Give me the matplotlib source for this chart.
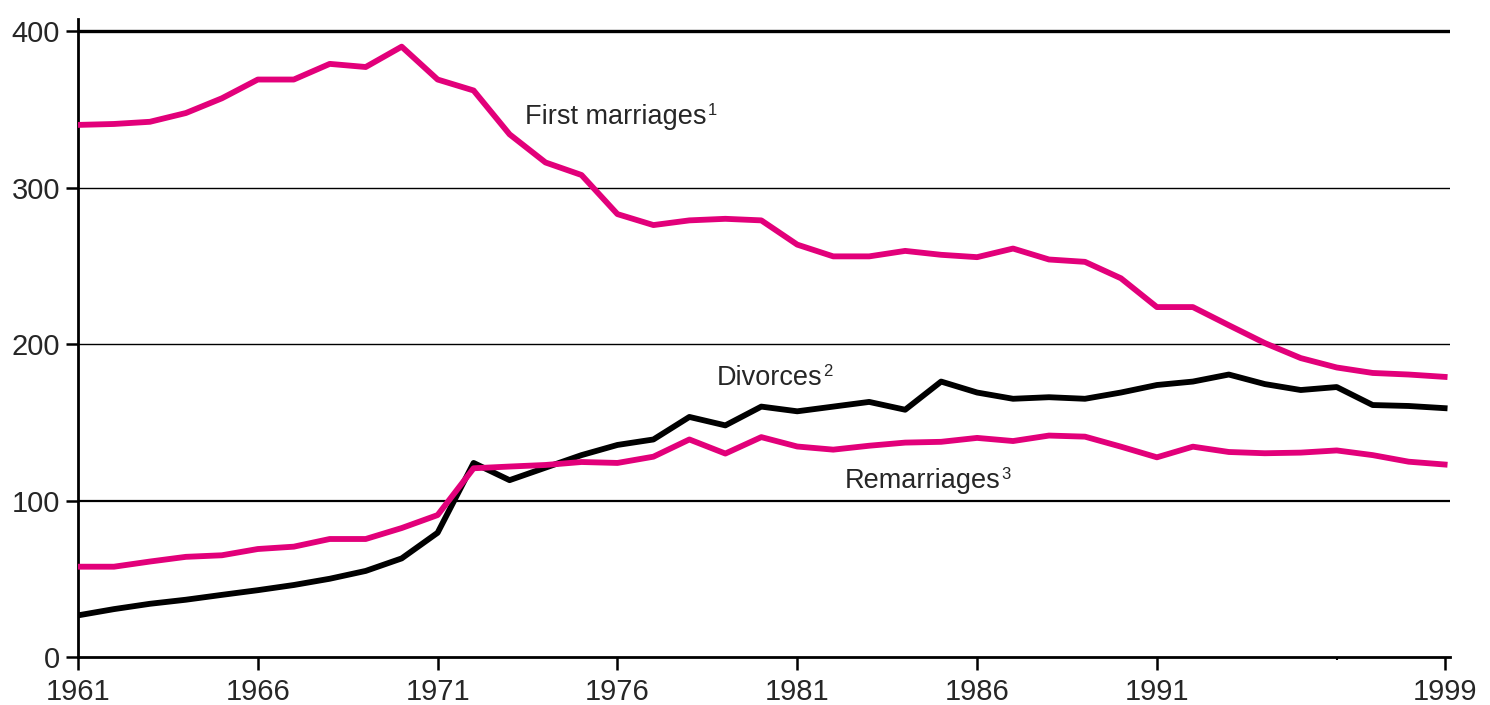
import matplotlib
matplotlib.use("Agg")
import matplotlib.pyplot as plt

years = list(range(1961, 2000))

first_marriages = [340, 340.6, 342, 347.6, 357, 369, 369, 379, 377, 390,
                   369, 362, 334, 316, 308, 283, 276, 279, 280, 279,
                   263.5, 256, 256, 259.5, 257, 255.5, 261, 254, 252.5, 242,
                   223.6, 223.6, 212, 200.6, 191, 185, 181.5, 180.5, 179]

divorces = [26.6, 30.6, 34, 36.6, 39.7, 42.7, 46, 50, 55, 63,
            79.4, 124, 113, 121, 129, 135.5, 139, 153.4, 148, 160,
            157, 160, 163, 158, 176, 169, 165, 166, 165, 169,
            173.8, 176, 180.5, 174.4, 170.6, 172.5, 161, 160.4, 159]

remarriages = [57.7, 57.7, 61, 64, 65, 69, 70.5, 75.4, 75.4, 82.4,
               90.7, 120.6, 121.7, 122.7, 124.6, 124, 128, 139, 130, 140.5,
               134.5, 132.5, 135, 137, 137.5, 140, 138, 141.5, 140.8, 134.4,
               127.6, 134.4, 131, 130.2, 130.6, 132, 129, 124.8, 123]

x_ticks = [1961, 1966, 1971, 1976, 1981, 1986, 1991, 1999]
y_ticks = [0, 100, 200, 300, 400]

labels = ["First marriages", "Divorces", "Remarriages"]
label_notes = ["1", "2", "3"]
label_pos = [(1973.44, 345), (1978.76, 178), (1982.33, 112.5)]

PINK = "#E2007A"
TEXT = "#262626"
plt.rcParams["font.family"] = ["Liberation Sans", "DejaVu Sans"]

fig = plt.figure(figsize=(14.9, 7.05), dpi=100)
ax = fig.add_axes([78 / 1490, 1 - 657 / 705, (1450 - 78) / 1490, (657 - 18.5) / 705])

# gridlines
grid_lw = {100: 1.6, 200: 1.0, 300: 1.0, 400: 2.4}
for yv in y_ticks[1:]:
    ax.axhline(yv, color="black", lw=grid_lw[yv], zorder=1)

ax.plot(years, first_marriages, color=PINK, lw=4.2, zorder=3)
ax.plot(years, remarriages, color=PINK, lw=4.2, zorder=3)
ax.plot(years, divorces, color="black", lw=4.2, zorder=2)

ax.set_xlim(1961, 1999.15)
ax.set_ylim(0, 408)
ax.set_xticks(x_ticks)
ax.set_yticks(y_ticks)
ax.set_xticks([1996], minor=True)
ax.tick_params(axis="both", which="major", length=9, width=1.8, color="black",
               labelsize=21, labelcolor=TEXT)
ax.tick_params(axis="y", which="major", pad=4)
ax.tick_params(axis="x", which="major", pad=6)
ax.tick_params(axis="x", which="minor", length=2, width=1.5)

for side in ("top", "right"):
    ax.spines[side].set_visible(False)
for side in ("left", "bottom"):
    ax.spines[side].set_linewidth(2)
ax.spines["bottom"].set_zorder(4)

for lab, note, (lx, ly) in zip(labels, label_notes, label_pos):
    t = ax.text(lx, ly, lab, fontsize=19.5, color=TEXT, ha="left", va="center", zorder=5)
    ax.annotate(note, xy=(1.0, 1.0), xycoords=t, xytext=(0.5, 1), textcoords="offset points",
                fontsize=12, color=TEXT, ha="left", va="top", zorder=5)

fig.savefig("out.png", dpi=100)
